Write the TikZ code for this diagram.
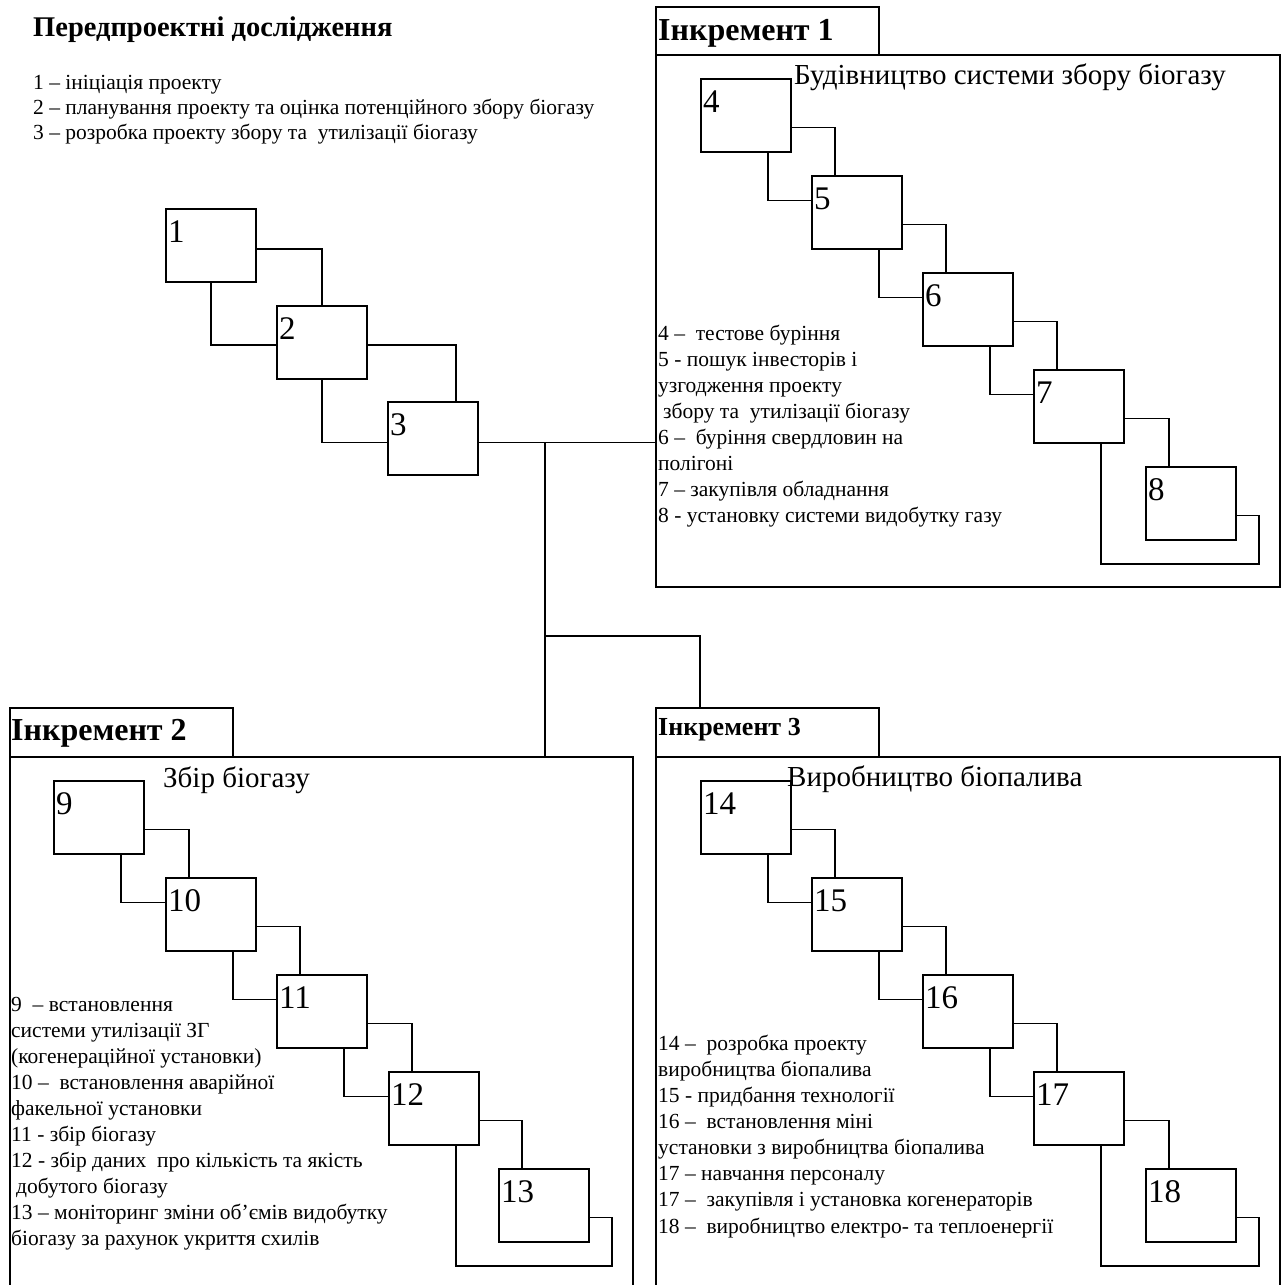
\documentclass[tikz,border=0pt]{standalone}
\usepackage{fontspec}
\setmainfont{Liberation Serif}
\usetikzlibrary{calc}
\tikzset{
  stagebox/.style={draw, line width=1.8pt, rectangle, minimum width=90pt, minimum height=73pt, inner sep=0pt},
  framebox/.style={draw, line width=2pt, rectangle, inner sep=0pt},
  conn/.style={line width=1.8pt},
  num/.style={anchor=base west, inner sep=0pt, font=\fontsize{33}{38}\selectfont},
  listline/.style={anchor=base west, inner sep=0pt, font=\fontsize{21.5}{26}\selectfont},
  subtitle/.style={anchor=base west, inner sep=0pt, font=\fontsize{29}{34}\selectfont},
  inclabel/.style={anchor=base west, inner sep=0pt, font=\bfseries\fontsize{32}{38}\selectfont},
  maintitle/.style={anchor=base west, inner sep=0pt, font=\bfseries\fontsize{28.5}{34}\selectfont},
}
\newcommand\mkstage[3]{%
  \node[stagebox] (b#1) at ({#2+45},{#3+36.5}) {};
  \node[num] (n#1) at ({#2+2},{#3+33}) {#1};
}
\newcommand\mklink[2]{%
  \draw[conn] ($(b#1.east)+(0,12)$) -| ($(b#2.north)+(-22,0)$);
  \draw[conn] ($(b#1.south)+(22,0)$) |- ($(b#2.west)+(0,-12)$);
}
\newcommand\mkloop[2]{%
  \draw[conn] ($(b#1.south)+(22,0)$) |- ($(b#2.south east)+(22,23)$) |- ($(b#2.east)+(0,12)$);
}
\begin{document}
\begin{tikzpicture}[x=1pt,y=-1pt]
\useasboundingbox (0,0) rectangle (1281,1285);

% ---------- frames ----------
\node[framebox, minimum width=624pt, minimum height=532pt] (f1) at (968,321) {};
\node[framebox, minimum width=223pt, minimum height=48pt] (lab1) at (767.5,31) {};
\node[framebox, minimum width=623pt, minimum height=530pt] (f2) at (321.5,1022) {};
\node[framebox, minimum width=223pt, minimum height=49pt] (lab2) at (121.5,732.5) {};
\node[framebox, minimum width=624pt, minimum height=530pt] (f3) at (968,1022) {};
\node[framebox, minimum width=223pt, minimum height=49pt] (lab3) at (767.5,732.5) {};

% ---------- titles ----------
\node[maintitle] (title) at (33,36) {Передпроектні дослідження};
\node[inclabel] (t1) at (658,40) {Інкремент 1};
\node[inclabel] (t2) at (11,740) {Інкремент 2};
\node[inclabel, font=\bfseries\fontsize{26}{30}\selectfont] (t3) at (658,735) {Інкремент 3};
\node[subtitle] (s1) at (794,84) {Будівництво системи збору біогазу};
\node[subtitle] (s2) at (163,787) {Збір біогазу};
\node[subtitle] (s3) at (787,786) {Виробництво біопалива};

% ---------- lists ----------
\foreach \t [count=\i from 0] in {%
  {1 – ініціація проекту},
  {2 – планування проекту та оцінка потенційного збору біогазу},
  {3 – розробка проекту збору та\ \ утилізації біогазу}}
  \node[listline] (L0-\i) at (33,{89+25*\i}) {\t};

\foreach \t [count=\i from 0] in {%
  {4 –\ \ тестове буріння},
  {5 - пошук інвесторів і},
  {узгодження проекту},
  {\hspace*{5pt}збору та\ \ утилізації біогазу},
  {6 –\ \ буріння свердловин на},
  {полігоні},
  {7 – закупівля обладнання},
  {8 - установку системи видобутку газу}}
  \node[listline] (L1-\i) at (658,{340+26.1*\i}) {\t};

\foreach \t [count=\i from 0] in {%
  {9\ \ – встановлення},
  {системи утилізації ЗГ},
  {(когенераційної установки)},
  {10 –\ \ встановлення аварійної},
  {факельної установки},
  {11 - збір біогазу},
  {12 - збір даних\ \ про кількість та якість},
  {\hspace*{5pt}добутого біогазу},
  {13 – моніторинг зміни об’ємів видобутку},
  {біогазу за рахунок укриття схилів}}
  \node[listline] (L2-\i) at (11,{1011+26.1*\i}) {\t};

\foreach \t [count=\i from 0] in {%
  {14 –\ \ розробка проекту},
  {виробництва біопалива},
  {15 - придбання технології},
  {16 –\ \ встановлення міні},
  {установки з виробництва біопалива},
  {17 – навчання персоналу},
  {17 –\ \ закупівля і установка когенераторів},
  {18 –\ \ виробництво електро- та теплоенергії}}
  \node[listline] (L3-\i) at (658,{1050+26.15*\i}) {\t};

% ---------- pre-project stages ----------
\mkstage{1}{166}{209}
\mkstage{2}{277}{306}
\mkstage{3}{388}{402}
\draw[conn] ($(b1.east)+(0,3.5)$) -| (b2.north);
\draw[conn] (b1.south) |- ($(b2.west)+(0,2.5)$);
\draw[conn] ($(b2.east)+(0,2.5)$) -| ($(b3.north)+(23,0)$);
\draw[conn] (b2.south) |- ($(b3.west)+(0,4)$);

% ---------- increment 1 ----------
\mkstage{4}{701}{79}
\mkstage{5}{812}{176}
\mkstage{6}{923}{273}
\mkstage{7}{1034}{370}
\mkstage{8}{1146}{467}
\mklink{4}{5}
\mklink{5}{6}
\mklink{6}{7}
\draw[conn] ($(b7.east)+(0,12)$) -| ($(b8.north)+(-22,0)$);
\mkloop{7}{8}

% ---------- increment 2 ----------
\mkstage{9}{54}{781}
\mkstage{10}{166}{878}
\mkstage{11}{277}{975}
\mkstage{12}{389}{1072}
\mkstage{13}{499}{1169}
\mklink{9}{10}
\mklink{10}{11}
\mklink{11}{12}
\draw[conn] ($(b12.east)+(0,12)$) -| ($(b13.north)+(-22,0)$);
\mkloop{12}{13}

% ---------- increment 3 ----------
\mkstage{14}{701}{781}
\mkstage{15}{812}{878}
\mkstage{16}{923}{975}
\mkstage{17}{1034}{1072}
\mkstage{18}{1146}{1169}
\mklink{14}{15}
\mklink{15}{16}
\mklink{16}{17}
\draw[conn] ($(b17.east)+(0,12)$) -| ($(b18.north)+(-22,0)$);
\mkloop{17}{18}

% ---------- trunk connectors ----------
\coordinate (o3) at ($(b3.east)+(0,4)$);
\coordinate (J) at (545,442.5);
\coordinate (K) at (545,636);
\draw[conn] (o3) -- (o3 -| f1.west);
\draw[conn] (J) -- (J |- f2.north);
\draw[conn] (K) -| ($(lab3.north west)+(45,0)$);
\end{tikzpicture}
\end{document}
